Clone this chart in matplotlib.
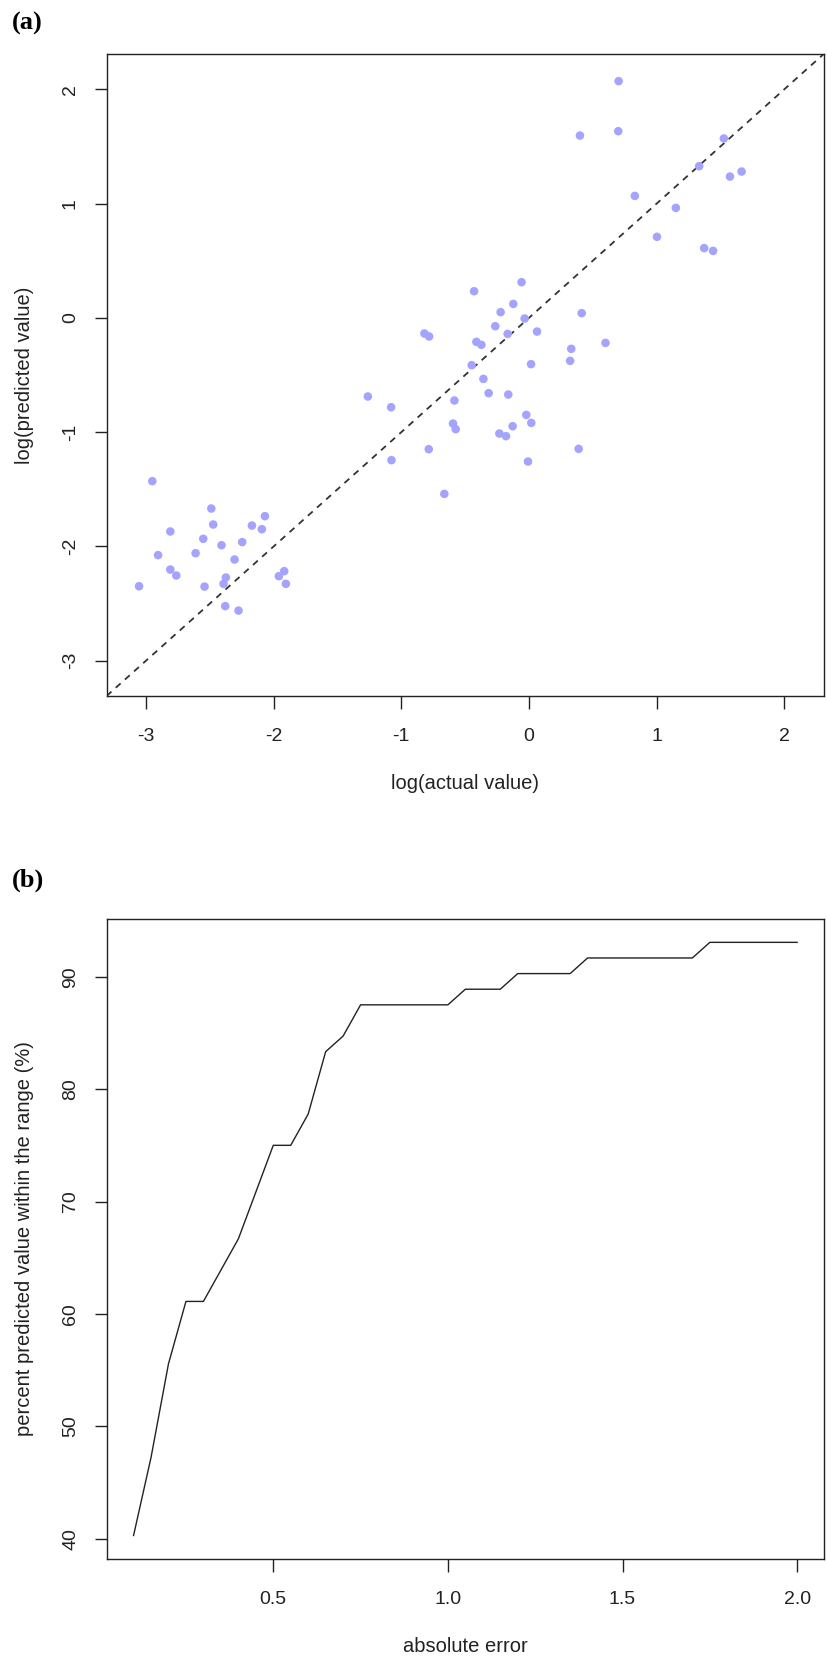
import numpy as np
import matplotlib
matplotlib.use("Agg")
import matplotlib.pyplot as plt

# ── Datos panel (a): log(valor real) vs log(valor predicho) ──────────────────
log_actual = [
    -2.950, -2.488, -2.473, -2.068, -2.170, -2.092, -2.809, -2.551, -2.408, -2.246,
    -2.905, -2.611, -2.306, -2.809, -2.762, -2.374, -2.392, -3.054, -2.541, -1.959,
    -1.917, -1.904, -2.379, -2.275,
    -0.058, -0.430, -0.123, -0.222, -0.034, -0.264, 0.063, -0.167, -0.819, -0.782,
    -0.412, -0.373, 0.331, 0.322, 0.016, -0.449, -0.357, -0.584, -0.316, -0.162,
    -1.262, -1.080, -0.021, 0.018, -0.128, -0.595, -0.574, -0.232, -0.180, -0.785,
    -1.077, -0.008, -0.663, 0.599, 0.389, 0.413,
    0.702, 0.399, 0.699, 1.526, 1.333, 1.574, 1.665, 0.829, 1.150, 1.002,
    1.372, 1.442,
]
log_pred = [
    -1.429, -1.668, -1.808, -1.735, -1.817, -1.849, -1.869, -1.933, -1.989, -1.962,
    -2.076, -2.059, -2.114, -2.202, -2.254, -2.272, -2.327, -2.348, -2.351, -2.260,
    -2.216, -2.327, -2.522, -2.561,
    0.312, 0.233, 0.122, 0.050, -0.006, -0.073, -0.120, -0.140, -0.137, -0.163,
    -0.210, -0.236, -0.271, -0.376, -0.405, -0.414, -0.534, -0.723, -0.659, -0.671,
    -0.688, -0.782, -0.849, -0.919, -0.948, -0.925, -0.974, -1.012, -1.035, -1.149,
    -1.245, -1.257, -1.540, -0.219, -1.146, 0.041,
    2.071, 1.595, 1.633, 1.569, 1.327, 1.236, 1.280, 1.067, 0.962, 0.709,
    0.610, 0.586,
]

# ── Datos panel (b): % de predicciones dentro del rango vs error absoluto ────
abs_error = [0.10, 0.15, 0.20, 0.25, 0.30, 0.35, 0.40, 0.45, 0.50, 0.55,
             0.60, 0.65, 0.70, 0.75, 0.80, 0.85, 0.90, 0.95, 1.00, 1.05,
             1.10, 1.15, 1.20, 1.25, 1.30, 1.35, 1.40, 1.45, 1.50, 1.55,
             1.60, 1.65, 1.70, 1.75, 1.80, 1.85, 1.90, 1.95, 2.00]
pct_within = [40.28, 47.22, 55.56, 61.11, 61.11, 63.89, 66.67, 70.83, 75.00, 75.00,
              77.78, 83.33, 84.72, 87.50, 87.50, 87.50, 87.50, 87.50, 87.50, 88.89,
              88.89, 88.89, 90.28, 90.28, 90.28, 90.28, 91.67, 91.67, 91.67, 91.67,
              91.67, 91.67, 91.67, 93.06, 93.06, 93.06, 93.06, 93.06, 93.06]

x_ticks_a = [-3, -2, -1, 0, 1, 2]
y_ticks_a = [-3, -2, -1, 0, 1, 2]
x_ticks_b = [0.5, 1.0, 1.5, 2.0]
x_ticklabels_b = ["0.5", "1.0", "1.5", "2.0"]
y_ticks_b = [40, 50, 60, 70, 80, 90]

plt.rcParams["font.family"] = ["Liberation Sans", "DejaVu Sans"]

TICK_FS = 14
LABEL_FS = 14.5


def estilo_r(ax):
    for s in ax.spines.values():
        s.set_linewidth(1.0)
        s.set_color("#222222")
    ax.tick_params(axis="both", direction="out", length=9, width=1.0,
                   color="#222222", labelsize=TICK_FS, labelcolor="#222222")
    ax.tick_params(axis="x", pad=14)
    ax.tick_params(axis="y", pad=11)
    for lab in ax.get_yticklabels():
        lab.set_rotation(90)
        lab.set_va("center")


fig = plt.figure(figsize=(8.27, 16.63), dpi=100)

# ── Panel (a) ────────────────────────────────────────────────────────────────
ax1 = fig.add_axes([0.1289, 0.5815, 0.8671, 0.3860])
ax1.scatter(log_actual, log_pred, s=38, color="#a4a4ff", edgecolors="none",
            zorder=3)
ax1.axline((0, 0), slope=1, color="#333333", linestyle=(0, (3.6, 3.2)),
           linewidth=1.3, zorder=2)
lim = (-3.308, 2.308)
ax1.set_xlim(lim)
ax1.set_ylim(lim)
ax1.set_xticks(x_ticks_a)
ax1.set_yticks(y_ticks_a)
ax1.set_xticklabels([str(t) for t in x_ticks_a])
ax1.set_yticklabels([str(t) for t in y_ticks_a])
estilo_r(ax1)
ax1.set_xlabel("log(actual value)", fontsize=LABEL_FS, labelpad=21,
               color="#222222")
ax1.set_ylabel("log(predicted value)", fontsize=LABEL_FS, labelpad=20,
               color="#222222")

# ── Panel (b) ────────────────────────────────────────────────────────────────
ax2 = fig.add_axes([0.1294, 0.0624, 0.8666, 0.3852])
ax2.plot(abs_error, pct_within, color="#222222", linewidth=1.0)
ax2.set_xlim(0.024, 2.076)
ax2.set_ylim(38.17, 95.17)
ax2.set_xticks(x_ticks_b)
ax2.set_xticklabels(x_ticklabels_b)
ax2.set_yticks(y_ticks_b)
ax2.set_yticklabels([str(t) for t in y_ticks_b])
estilo_r(ax2)
ax2.set_xlabel("absolute error", fontsize=LABEL_FS, labelpad=21,
               color="#222222")
ax2.set_ylabel("percent predicted value within the range (%)",
               fontsize=LABEL_FS, labelpad=20, color="#222222")

# ── Etiquetas de panel ───────────────────────────────────────────────────────
fig.text(12 / 827, 1 - 12 / 1663, "(a)", fontsize=19, fontweight="bold",
         family="Liberation Serif", ha="left", va="top")
fig.text(12 / 827, 1 - 869 / 1663, "(b)", fontsize=19, fontweight="bold",
         family="Liberation Serif", ha="left", va="top")

fig.savefig("out.png", dpi=100)
